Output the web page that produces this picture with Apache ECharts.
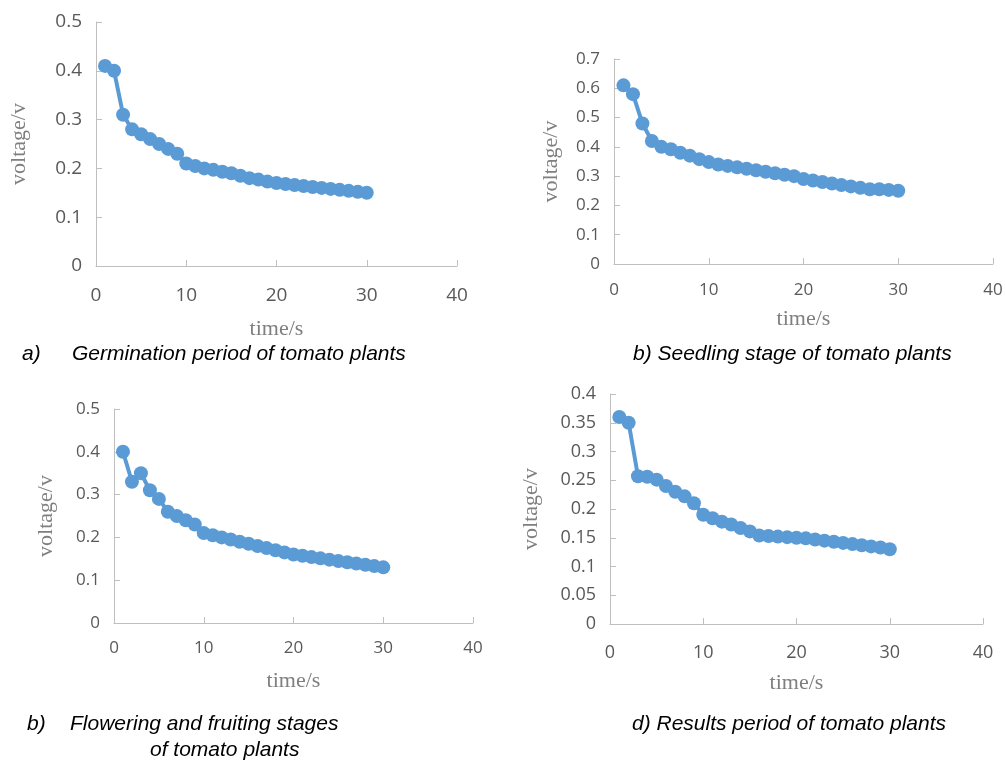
<!DOCTYPE html>
<html>
<head>
<meta charset="utf-8">
<title>tomato voltage</title>
<script src="https://cdn.jsdelivr.net/npm/echarts@6/dist/echarts.min.js"></script>
<style>
  html, body { margin: 0; padding: 0; background: #fff; }
  #main { width: 1006px; height: 762px; }
</style>
</head>
<body>
<div id="main"></div>
<script>
// time points (s)
var timeSec = [1,2,3,4,5,6,7,8,9,10,11,12,13,14,15,16,17,18,19,20,21,22,23,24,25,26,27,28,29,30];

// a) germination period
var germination = [0.41,0.40,0.31,0.28,0.27,0.26,0.25,0.24,0.23,0.21,0.205,0.20,0.197,0.193,0.19,0.185,0.18,0.177,0.173,0.17,0.168,0.166,0.164,0.162,0.16,0.158,0.156,0.154,0.152,0.15];
// b) seedling stage
var seedling = [0.61,0.58,0.48,0.42,0.40,0.392,0.38,0.37,0.358,0.348,0.34,0.335,0.33,0.325,0.32,0.315,0.31,0.305,0.30,0.29,0.285,0.28,0.275,0.27,0.265,0.26,0.255,0.255,0.253,0.25];
// c) flowering and fruiting stages
var flowering = [0.40,0.33,0.35,0.31,0.29,0.26,0.25,0.24,0.23,0.21,0.205,0.20,0.195,0.19,0.185,0.18,0.175,0.17,0.165,0.16,0.157,0.154,0.151,0.148,0.145,0.142,0.139,0.136,0.133,0.13];
// d) results period
var results = [0.36,0.35,0.257,0.256,0.251,0.24,0.23,0.222,0.21,0.19,0.184,0.178,0.173,0.167,0.161,0.154,0.153,0.152,0.151,0.15,0.149,0.147,0.145,0.143,0.141,0.139,0.137,0.135,0.133,0.13];

var xTicks = { min: 0, max: 40, interval: 10 };
var yTicks = [
  { min: 0, max: 0.5, interval: 0.1 },
  { min: 0, max: 0.7, interval: 0.1 },
  { min: 0, max: 0.5, interval: 0.1 },
  { min: 0, max: 0.4, interval: 0.05 }
];
var captions = [
  ['a)', 'Germination period of tomato plants'],
  ['', 'b) Seedling stage of tomato plants'],
  ['b)', 'Flowering and fruiting stages'],
  ['', 'd) Results period of tomato plants']
];

var chart = echarts.init(document.getElementById('main'));

var grids = [
  { left: 96,  top: 22,  width: 361, height: 244 },
  { left: 614, top: 59,  width: 379, height: 205 },
  { left: 114, top: 409, width: 359, height: 214 },
  { left: 610, top: 394, width: 373, height: 230 }
];
var labelSize = [19, 17, 17, 18];
var xLabelMargin = [20, 18, 17, 20];
var xNameGap = [52, 44, 47, 48];
var yNameGap = [66, 52, 57, 68];

var axisColor = '#bfbfbf';
var labelColor = '#595959';
var nameStyle = { fontFamily: 'Liberation Serif, serif', fontSize: 22, color: '#7f7f7f' };

var xAxes = [], yAxes = [], series = [];
var allData = [germination, seedling, flowering, results];
for (var i = 0; i < 4; i++) {
  xAxes.push({
    gridIndex: i, type: 'value',
    min: xTicks.min, max: xTicks.max, interval: xTicks.interval,
    name: 'time/s', nameLocation: 'middle', nameGap: xNameGap[i], nameTextStyle: nameStyle,
    axisLine: { lineStyle: { color: axisColor, width: 1 } },
    axisTick: { inside: true, length: 6, lineStyle: { color: axisColor } },
    axisLabel: { fontFamily: 'Open Sans', fontSize: labelSize[i], color: labelColor, margin: xLabelMargin[i] },
    splitLine: { show: false }
  });
  yAxes.push({
    gridIndex: i, type: 'value',
    min: yTicks[i].min, max: yTicks[i].max, interval: yTicks[i].interval,
    name: 'voltage/v', nameLocation: 'middle', nameGap: yNameGap[i], nameTextStyle: nameStyle,
    axisLine: { show: true, lineStyle: { color: axisColor, width: 1 } },
    axisTick: { show: true, inside: true, length: 6, lineStyle: { color: axisColor } },
    axisLabel: { fontFamily: 'Open Sans', fontSize: labelSize[i], color: labelColor, margin: 14 },
    splitLine: { show: false }
  });
  series.push({
    type: 'line', xAxisIndex: i, yAxisIndex: i,
    data: timeSec.map(function (t, k) { return [t, allData[i][k]]; }),
    symbol: 'circle', symbolSize: 14,
    itemStyle: { color: '#5b9bd5' },
    lineStyle: { color: '#5b9bd5', width: 4 },
    animation: false
  });
}

var capStyle = { fontFamily: 'Liberation Sans, Arial', fontStyle: 'italic', fontSize: 21, fill: '#000' };
function cap(text, x, y) {
  return { type: 'text', left: x, top: y, style: Object.assign({ text: text }, capStyle) };
}

chart.setOption({
  backgroundColor: '#fff',
  animation: false,
  grid: grids,
  xAxis: xAxes,
  yAxis: yAxes,
  series: series,
  graphic: [
    cap(captions[0][0], 22, 344),
    cap(captions[0][1], 72, 344),
    cap(captions[1][1], 633, 344),
    cap(captions[2][0], 27, 714),
    cap(captions[2][1], 70, 714),
    cap('of tomato plants', 150, 740),
    cap(captions[3][1], 632, 714)
  ]
});
</script>
</body>
</html>
